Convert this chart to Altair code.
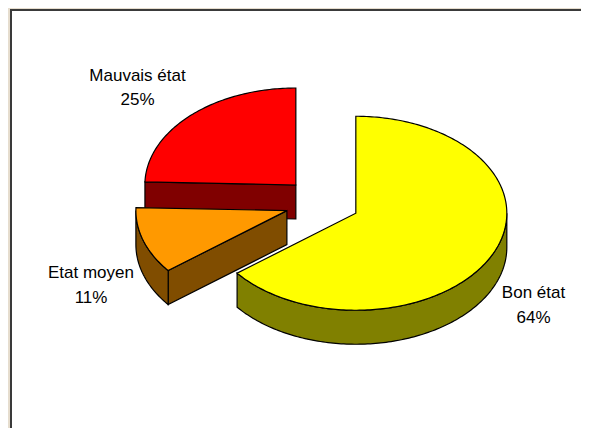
import math
import altair as alt

# Chart values
categories = ["Bon état", "Etat moyen", "Mauvais état"]
shares = [64.4, 11.1, 24.5]
percent_labels = ["64%", "11%", "25%"]
top_colors = ["#FFFF00", "#FF9900", "#FF0000"]
side_colors = ["#808000", "#804D00", "#800000"]
draw_order = [2, 1, 0]
explode = [36.5, 38, 39]

# Layout (page pixels; the page margin is removed below)
MARGIN = 8
CX, CY = 323, 203
A, B = 151, 97
DEPTH = 34
label_anchors = [(533.5, 298, 323), (91, 278, 303), (137.5, 81, 105)]
BACKDROP = "#E6DDCE"


def to_chart(p):
    return [p[0] - MARGIN, p[1] - MARGIN]


def on_rim(apex, deg):
    t = math.radians(deg)
    return (apex[0] + A * math.sin(t), apex[1] - B * math.cos(t))


def down(p):
    return (p[0], p[1] + DEPTH)


def arc(apex, s, e):
    n = max(2, int(abs(e - s)) + 1)
    return [on_rim(apex, s + (e - s) * i / (n - 1)) for i in range(n)]


def feature(points, fill, stroke="black", width=1.2):
    ring = [to_chart(p) for p in points]
    ring.append(ring[0])
    return {
        "type": "Feature",
        "geometry": {"type": "Polygon", "coordinates": [ring]},
        "properties": {"fill": fill, "stroke": stroke, "width": width},
    }


features = [
    feature([(8, 8), (640, 8), (640, 480), (8, 480)], BACKDROP, BACKDROP, 0),
    feature([(11, 10), (640, 10), (640, 480), (11, 480)], "#FFFFFF", "#3A3A3A", 2),
]

starts = {}
run = 0.0
for i, v in enumerate(shares):
    starts[i] = (run * 3.6, (run + v) * 3.6)
    run += v

for i in draw_order:
    s, e = starts[i]
    mid = math.radians((s + e) / 2)
    apex = (CX + explode[i] * math.sin(mid), CY - explode[i] * math.cos(mid) * B / A)
    if 180 < s < 360:
        p = on_rim(apex, s)
        features.append(feature([p, apex, down(apex), down(p)], side_colors[i]))
    if 0 < e < 180:
        p = on_rim(apex, e)
        features.append(feature([p, apex, down(apex), down(p)], side_colors[i]))
    lo, hi = max(s, 90), min(e, 270)
    if hi > lo:
        rim = arc(apex, lo, hi)
        features.append(feature(rim + [down(q) for q in reversed(rim)], side_colors[i]))
    features.append(feature([apex] + arc(apex, s, e), top_colors[i]))

label_rows = []
for n, p, (x, y1, y2) in zip(categories, percent_labels, label_anchors):
    label_rows.append({"lon": x - MARGIN, "lat": y1 - MARGIN, "text": n})
    label_rows.append({"lon": x - MARGIN, "lat": y2 - MARGIN, "text": p})

projection = dict(type="identity", scale=1, translate=[0, 0])

shapes = (
    alt.Chart(alt.Data(values=features))
    .mark_geoshape(strokeJoin="miter")
    .encode(
        fill=alt.Fill("properties.fill:N", scale=None),
        stroke=alt.Stroke("properties.stroke:N", scale=None),
        strokeWidth=alt.StrokeWidth("properties.width:Q", scale=None),
    )
    .project(**projection)
)

labels = (
    alt.Chart(alt.Data(values=label_rows))
    .mark_text(font="Liberation Sans", fontSize=17, color="black", align="center", baseline="alphabetic")
    .encode(longitude="lon:Q", latitude="lat:Q", text="text:N")
    .project(**projection)
)

chart = (
    alt.layer(shapes, labels)
    .properties(width=573, height=420, padding=0, background="white", autosize=alt.AutoSizeParams(type="none"))
    .configure_view(stroke=None)
)

chart.save("out.html", embed_options={"renderer": "svg", "actions": False})
